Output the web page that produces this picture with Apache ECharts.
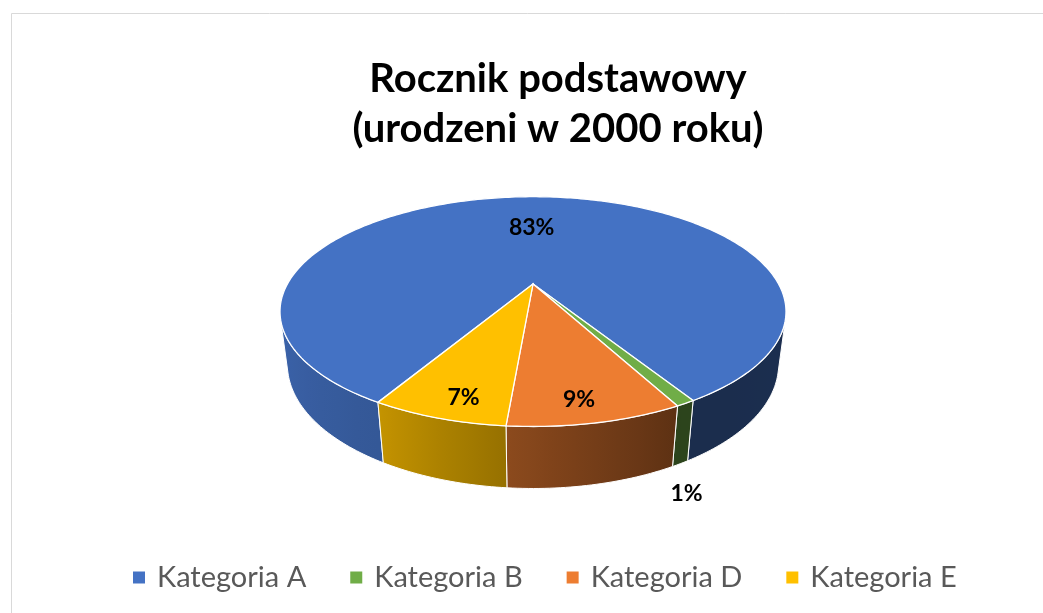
<!DOCTYPE html>
<html>
<head>
<meta charset="utf-8">
<title>Rocznik podstawowy</title>
<script src="https://cdn.jsdelivr.net/npm/echarts@6/dist/echarts.min.js"></script>
<style>
  html, body { margin: 0; padding: 0; background: #fff; }
  #main { width: 1043px; height: 613px; }
</style>
</head>
<body>
<div id="main"></div>
<script>
// dane
var categories = ['Kategoria A', 'Kategoria B', 'Kategoria D', 'Kategoria E'];
var values = [83, 1, 9, 7];
var colors = ['#4472C4', '#70AD47', '#ED7D31', '#FFC000'];

// widok 3D (perspektywa jak w Excelu)
var view = { cx: 533, cy: 284, f: 918, dist: 3.738, tilt: 26.16, depth: 0.24, start: 210 };
// jasnosc scianki bocznej w zaleznosci od kata
var shadeStops = [[100, 0.41], [152, 0.39], [185, 0.59], [210, 0.77], [253, 0.87], [260, 0.87]];

var chart = echarts.init(document.getElementById('main'), null, { renderer: 'canvas' });

function project(phi, r, y) {
  var a = phi * Math.PI / 180, t = view.tilt * Math.PI / 180;
  var X = r * Math.sin(a), Z = r * Math.cos(a);
  var yc = Z * Math.sin(t) + y * Math.cos(t);
  var zc = view.dist + Z * Math.cos(t) - y * Math.sin(t);
  return [view.cx + view.f * X / zc, view.cy - view.f * yc / zc];
}

function shade(phi) {
  phi = ((phi % 360) + 360) % 360;
  if (phi <= shadeStops[0][0]) return shadeStops[0][1];
  for (var k = 1; k < shadeStops.length; k++) {
    if (phi <= shadeStops[k][0]) {
      var p = shadeStops[k - 1], q = shadeStops[k];
      return p[1] + (q[1] - p[1]) * (phi - p[0]) / (q[0] - p[0]);
    }
  }
  return shadeStops[shadeStops.length - 1][1];
}

function darken(hex, k) {
  var n = parseInt(hex.slice(1), 16);
  var r = Math.round(((n >> 16) & 255) * k), g = Math.round(((n >> 8) & 255) * k), b = Math.round((n & 255) * k);
  return 'rgb(' + r + ',' + g + ',' + b + ')';
}

function arc(a1, a2, r, y) {
  var pts = [], n = Math.max(2, Math.ceil(Math.abs(a2 - a1)));
  for (var k = 0; k <= n; k++) pts.push(project(a1 + (a2 - a1) * k / n, r, y));
  return pts;
}

function renderSlice(params, api) {
  var i = params.seriesIndex;
  var total = values.reduce(function (s, v) { return s + v; }, 0);
  var before = values.slice(0, i).reduce(function (s, v) { return s + v; }, 0);
  var v = api.value(0);
  var a1 = view.start + before / total * 360;
  var a2 = a1 + v / total * 360;
  var base = colors[i];
  var children = [];

  // widoczna czesc sciany bocznej
  var lim = Math.acos(-1 / (Math.cos(view.tilt * Math.PI / 180) * view.dist)) * 180 / Math.PI;
  [[lim, 360 - lim], [lim + 360, 720 - lim]].forEach(function (w) {
    var lo = Math.max(a1, w[0]), hi = Math.min(a2, w[1]);
    if (hi - lo <= 0) return;
    var pts = arc(lo, hi, 1, 0).concat(arc(hi, lo, 1, -view.depth));
    var stops = [], xs = [];
    for (var k = 0; k <= 8; k++) {
      var p = lo + (hi - lo) * k / 8;
      var x = project(p, 1, 0)[0];
      xs.push(x);
      stops.push({ x: x, color: darken(base, shade(p)) });
    }
    var xmin = Math.min.apply(null, xs), xmax = Math.max.apply(null, xs);
    stops = stops.map(function (s) {
      return { offset: xmax > xmin ? (s.x - xmin) / (xmax - xmin) : 0, color: s.color };
    }).sort(function (a, b) { return a.offset - b.offset; });
    children.push({
      type: 'polygon',
      shape: { points: pts },
      style: {
        fill: new echarts.graphic.LinearGradient(xmin, 0, xmax, 0, stops, true),
        stroke: '#ffffff',
        lineWidth: 1
      }
    });
  });

  // gorna powierzchnia
  children.push({
    type: 'polygon',
    z2: 10,
    shape: { points: [project(0, 0, 0)].concat(arc(a1, a2, 1, 0)) },
    style: { fill: base, stroke: '#ffffff', lineWidth: 1.3 }
  });

  // etykieta
  var mid = (a1 + a2) / 2, share = v / total, pos;
  if (share < 0.03) {
    pos = project(mid, 1.05, -view.depth);
    pos = [pos[0] - 3, pos[1] + 22];
  } else if (share > 0.5) {
    pos = project(mid, 0.6, 0);
  } else {
    // Excel przesuwa etykiety lekko ku przodowi wykresu
    var m = ((mid % 360) + 360) % 360;
    pos = project(180 + (m - 180) * 0.87, 0.865, 0);
  }
  children.push({
    type: 'text',
    z2: 20,
    style: {
      x: pos[0], y: pos[1],
      text: Math.round(share * 100) + '%',
      fill: '#000000',
      fontFamily: 'Lato',
      fontWeight: 'bold',
      fontSize: 23,
      align: 'center',
      verticalAlign: 'middle'
    }
  });

  return { type: 'group', children: children };
}

var series = categories.map(function (name, i) {
  return {
    name: name,
    type: 'custom',
    coordinateSystem: 'none',
    itemStyle: { color: colors[i] },
    renderItem: renderSlice,
    data: [[values[i]]]
  };
});

var option = {
  backgroundColor: '#ffffff',
  animation: false,
  color: colors,
  title: {
    text: 'Rocznik podstawowy\n(urodzeni w 2000 roku)',
    left: 558,
    top: 54,
    padding: 0,
    textAlign: 'center',
    textStyle: {
      fontFamily: 'Lato',
      fontWeight: 'bold',
      fontSize: 40,
      lineHeight: 50,
      color: '#000000'
    }
  },
  legend: {
    data: categories,
    left: 133,
    top: 563,
    padding: 0,
    icon: 'rect',
    itemWidth: 12,
    itemHeight: 12,
    itemGap: 44,
    textStyle: {
      fontFamily: 'Lato',
      fontSize: 29,
      color: '#595959',
      padding: [0, 0, 0, 7]
    }
  },
  graphic: [{
    type: 'rect',
    left: 9,
    top: 11,
    shape: { x: 0.5, y: 0.5, width: 1100, height: 700 },
    style: { fill: 'none', stroke: '#d9d9d9', lineWidth: 1 },
    silent: true
  }],
  series: series
};

chart.setOption(option);
</script>
</body>
</html>
